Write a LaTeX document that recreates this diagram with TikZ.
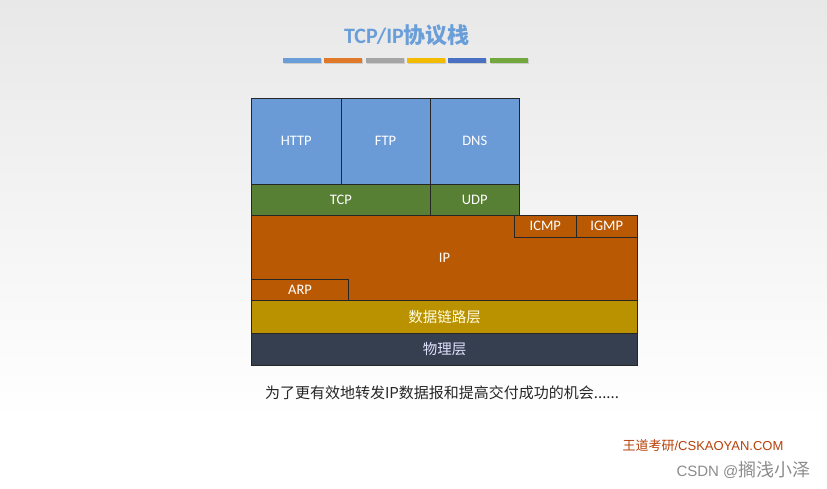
\documentclass[tikz,border=0pt]{standalone}
\usepackage{fontspec}
\setmainfont{Carlito}
\newfontfamily\cjk{Noto Sans CJK SC}
\newfontfamily\arialfont{Liberation Sans}
\definecolor{titleblue}{RGB}{106,158,216}
\definecolor{appblue}{RGB}{106,155,214}
\definecolor{tcpgreen}{RGB}{88,128,52}
\definecolor{iporange}{RGB}{186,89,4}
\definecolor{linkgold}{RGB}{186,146,0}
\definecolor{physnavy}{RGB}{54,63,80}
\definecolor{barblue}{RGB}{106,158,216}
\definecolor{barorange}{RGB}{224,122,42}
\definecolor{bargray}{RGB}{165,165,165}
\definecolor{bargold}{RGB}{242,187,0}
\definecolor{bardeep}{RGB}{74,112,196}
\definecolor{bargreen}{RGB}{114,168,62}
\definecolor{markred}{RGB}{184,64,10}
\begin{document}
\begin{tikzpicture}
[every node/.style={inner sep=0pt},
 blk/.style={rectangle, draw=black!85, line width=0.8pt, text=white, font=\fontsize{14.5}{16}\selectfont},
 cjkblk/.style={blk, font=\cjk\fontsize{14.5}{16}\selectfont}]
\useasboundingbox (0pt,0pt) rectangle (827pt,-489pt);
\shade [top color=black!9, bottom color=white] (0pt,0pt) rectangle (827pt,-420pt);
\fill [white] (0pt,-420pt) rectangle (827pt,-489pt);
% title and colour strip
\node (title) [text=titleblue, font=\bfseries\fontsize{22}{25}\selectfont] at (407pt, -35pt) {TCP/IP{\cjk\bfseries 协议栈}};
\fill [black!20] (284pt,-59pt) rectangle (322pt,-64pt);
\fill [barblue] (283pt,-58pt) rectangle (321pt,-63pt);
\fill [black!20] (325pt,-59pt) rectangle (363pt,-64pt);
\fill [barorange] (324pt,-58pt) rectangle (362pt,-63pt);
\fill [black!20] (367pt,-59pt) rectangle (405pt,-64pt);
\fill [bargray] (366pt,-58pt) rectangle (404pt,-63pt);
\fill [black!20] (408pt,-59pt) rectangle (446pt,-64pt);
\fill [bargold] (407pt,-58pt) rectangle (445pt,-63pt);
\fill [black!20] (449pt,-59pt) rectangle (487pt,-64pt);
\fill [bardeep] (448pt,-58pt) rectangle (486pt,-63pt);
\fill [black!20] (491pt,-59pt) rectangle (529pt,-64pt);
\fill [bargreen] (490pt,-58pt) rectangle (528pt,-63pt);
% application layer
\node (http) [blk, fill=appblue, minimum width=89.5pt, minimum height=85.5pt] at (296.25pt, -141.25pt) {HTTP};
\node (ftp) [blk, fill=appblue, minimum width=89pt, minimum height=85.5pt] at (385.5pt, -141.25pt) {FTP};
\node (dns) [blk, fill=appblue, minimum width=89.5pt, minimum height=85.5pt] at (474.75pt, -141.25pt) {DNS};
% transport layer
\node (tcp) [blk, fill=tcpgreen, minimum width=178.5pt, minimum height=31pt] at (340.75pt, -199.5pt) {TCP};
\node (udp) [blk, fill=tcpgreen, minimum width=89.5pt, minimum height=31pt] at (474.75pt, -199.5pt) {UDP};
% network layer
\node (ip) [blk, fill=iporange, minimum width=386pt, minimum height=85.5pt] at (444.5pt, -257.75pt) {IP};
\node (icmp) [blk, fill=iporange, minimum width=61.5pt, minimum height=22.5pt] at (545.25pt, -226.25pt) {ICMP};
\node (igmp) [blk, fill=iporange, minimum width=61.5pt, minimum height=22.5pt] at (606.75pt, -226.25pt) {IGMP};
\node (arp) [blk, fill=iporange, minimum width=97pt, minimum height=21pt] at (300pt, -290pt) {ARP};
% lower layers
\node (link) [cjkblk, fill=linkgold, text=white!88!yellow, minimum width=386pt, minimum height=32.5pt] at (444.5pt, -316.75pt) {数据链路层};
\node (phys) [cjkblk, fill=physnavy, text=white!88!blue, minimum width=386pt, minimum height=32.5pt] at (444.5pt, -349.25pt) {物理层};
% caption and marks
\node (caption) [font=\cjk\fontsize{15}{17}\selectfont, text=black!85] at (442pt, -393pt) {为了更有效地转发IP数据报和提高交付成功的机会......};
\node (mark) [text=markred, font=\arialfont\fontsize{13}{15}\selectfont] at (703pt, -446pt) {{\cjk 王道考研}/CSKAOYAN.COM};
\node (csdn) [text=black!45, font=\arialfont\fontsize{15}{17}\selectfont] at (743.5pt, -470pt) {CSDN @{\cjk\fontsize{18}{20}\selectfont 搁浅小泽}};
\end{tikzpicture}
\end{document}
